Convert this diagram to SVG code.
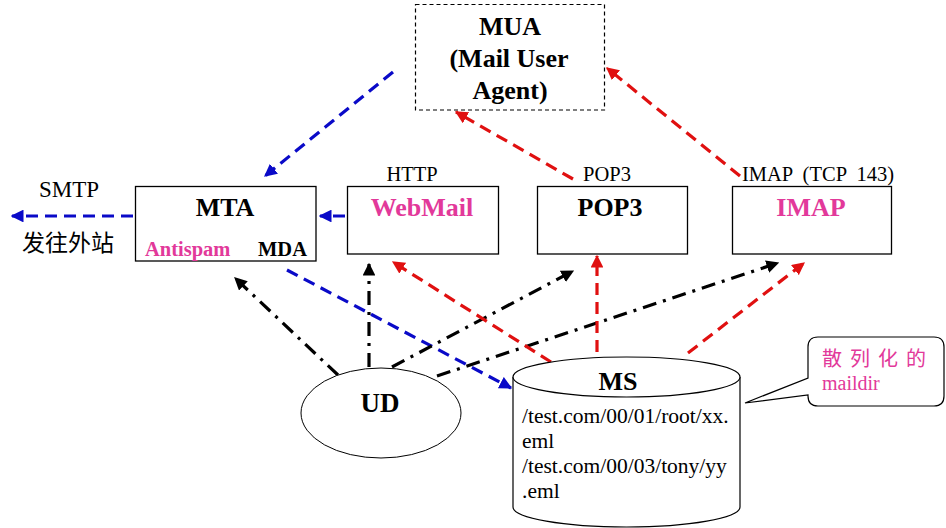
<svg xmlns="http://www.w3.org/2000/svg" width="946" height="528" viewBox="0 0 946 528">
<style>
.box{fill:#fff;stroke:#000;stroke-width:1.3}
.t{font-family:"Liberation Serif","Times New Roman",serif;fill:#000}
.b{font-weight:bold}
.pink{fill:#E2399A}
.blue{stroke:#0A0AC8;stroke-width:3.2;fill:none;stroke-dasharray:12 7}
.red{stroke:#E01010;stroke-width:3.2;fill:none;stroke-dasharray:12 7}
.blk{stroke:#000;stroke-width:3.2;fill:none;stroke-dasharray:14 7 3 7}
.cjk{font-family:"Noto Sans CJK SC",sans-serif}
</style>
<defs>
<marker id="ab" viewBox="0 0 10 10" refX="9" refY="5" markerWidth="4" markerHeight="4" orient="auto" markerUnits="strokeWidth"><path d="M0,0 L10,5 L0,10 z" fill="#0A0AC8"/></marker>
<marker id="ar" viewBox="0 0 10 10" refX="9" refY="5" markerWidth="4" markerHeight="4" orient="auto" markerUnits="strokeWidth"><path d="M0,0 L10,5 L0,10 z" fill="#E01010"/></marker>
<marker id="ak" viewBox="0 0 10 10" refX="9" refY="5" markerWidth="4" markerHeight="4" orient="auto" markerUnits="strokeWidth"><path d="M0,0 L10,5 L0,10 z" fill="#000"/></marker>
</defs>
<rect width="946" height="528" fill="#fff"/>

<g id="connectors">
<line class="blue" x1="133" y1="216" x2="12" y2="216" marker-end="url(#ab)"/>
<line class="blue" x1="345" y1="216" x2="320" y2="216" marker-end="url(#ab)"/>
<line class="blue" x1="393" y1="72" x2="265" y2="176" marker-end="url(#ab)"/>
<line class="red" x1="573" y1="179" x2="456" y2="112" marker-end="url(#ar)"/>
<line class="red" x1="740" y1="176" x2="607" y2="68" marker-end="url(#ar)"/>
<line class="blue" x1="287" y1="270" x2="511" y2="388" marker-end="url(#ab)"/>
<line class="blk" x1="338" y1="375" x2="235" y2="278" marker-end="url(#ak)"/>
<line class="blk" x1="369" y1="367" x2="369" y2="264" marker-end="url(#ak)"/>
<line class="blk" x1="392" y1="367" x2="573" y2="271" marker-end="url(#ak)"/>
<line class="blk" x1="437" y1="376" x2="778" y2="263" marker-end="url(#ak)"/>
<line class="red" x1="551" y1="362" x2="393" y2="262" marker-end="url(#ar)"/>
<line class="red" x1="597" y1="352" x2="597" y2="256" marker-end="url(#ar)"/>
<line class="red" x1="688" y1="353" x2="804" y2="263" marker-end="url(#ar)"/>
</g>

<g id="mua">
<rect x="415.5" y="4.5" width="189" height="105.5" fill="#fff" stroke="#000" stroke-width="1.2" stroke-dasharray="4 3"/>
<text class="t b" x="510" y="35" font-size="26" text-anchor="middle">MUA</text>
<text class="t b" x="509" y="67" font-size="26" text-anchor="middle">(Mail User</text>
<text class="t b" x="510" y="99" font-size="26" text-anchor="middle">Agent)</text>
</g>

<g id="smtp-label">
<text class="t" x="69" y="197" font-size="23" text-anchor="middle">SMTP</text>
<text class="cjk" x="68" y="251" font-size="23" text-anchor="middle" fill="#000">发往外站</text>
</g>

<g id="mta">
<rect class="box" x="135.5" y="186.5" width="180.5" height="74.5"/>
<text class="t b" x="225" y="216" font-size="26" text-anchor="middle">MTA</text>
<text class="t b pink" x="145" y="256" font-size="20.5">Antispam</text>
<text class="t b" x="258" y="256" font-size="20.5">MDA</text>
</g>

<g id="webmail">
<text class="t" x="412" y="181" font-size="20.5" text-anchor="middle">HTTP</text>
<rect class="box" x="347.5" y="186.5" width="151" height="67.5"/>
<text class="t b pink" x="422" y="216" font-size="26" text-anchor="middle">WebMail</text>
</g>

<g id="pop3">
<text class="t" x="607" y="181" font-size="20.5" text-anchor="middle">POP3</text>
<rect class="box" x="537.5" y="186.5" width="150" height="67.5"/>
<text class="t b" x="610" y="216" font-size="26" text-anchor="middle">POP3</text>
</g>

<g id="imap">
<text class="t" x="742" y="181" font-size="20.5" word-spacing="5">IMAP (TCP 143)</text>
<rect class="box" x="732.5" y="186.5" width="159" height="67.5"/>
<text class="t b pink" x="811" y="216" font-size="26" text-anchor="middle">IMAP</text>
</g>

<g id="ud">
<ellipse cx="381" cy="413" rx="80" ry="45" fill="#fff" stroke="#000" stroke-width="1"/>
<text class="t b" x="380" y="412" font-size="27" text-anchor="middle">UD</text>
</g>

<g id="ms">
<path d="M513,377 L513,507 A113.5,20 0 0 0 740,507 L740,377" fill="#fff" stroke="#000" stroke-width="1.2"/>
<ellipse cx="626.5" cy="377" rx="113.5" ry="20" fill="#fff" stroke="#000" stroke-width="1.2"/>
<text class="t b" x="618" y="390" font-size="26" text-anchor="middle">MS</text>
<text class="t" x="522" y="423" font-size="21.5">/test.com/00/01/root/xx.</text>
<text class="t" x="522" y="448" font-size="21.5">eml</text>
<text class="t" x="522" y="473" font-size="21.5">/test.com/00/03/tony/yy</text>
<text class="t" x="522" y="498" font-size="21.5">.eml</text>
</g>

<g id="callout">
<path d="M818,337 L934,337 Q944,337 944,347 L944,396 Q944,406 934,406 L818,406 Q808,406 808,396 L808,395 L745,403 L808,378 L808,347 Q808,337 818,337 Z" fill="#fff" stroke="#000" stroke-width="1.2"/>
<text class="cjk" x="822" y="366" font-size="20" style="fill:#E2399A" letter-spacing="8">散列化的</text>
<text class="t" x="822" y="390" font-size="20" style="fill:#E2399A">maildir</text>
</g>
</svg>
